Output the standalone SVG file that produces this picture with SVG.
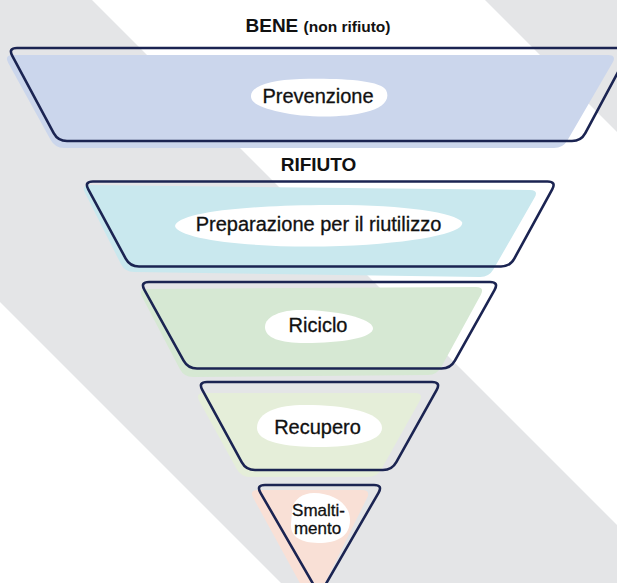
<svg xmlns="http://www.w3.org/2000/svg" width="617" height="583" viewBox="0 0 617 583">
<style>
.bg{fill:#e4e5e7}
.ol{fill:none;stroke:#1b2452;stroke-width:2.6;stroke-linejoin:round}
.blob{fill:#ffffff}
.lbl{font-family:"Liberation Sans",Arial,sans-serif;font-size:20px;fill:#111111;stroke:#111111;stroke-width:0.3;text-anchor:middle}
.sm{font-size:17px}
.hd{font-family:"Liberation Sans",Arial,sans-serif;font-weight:bold;font-size:19px;fill:#111111;text-anchor:middle}
</style>
<rect width="617" height="583" fill="#ffffff"/>
<polygon class="bg" points="0,0 92,0 617,525 617,583 281,583 0,302"/>
<polygon class="bg" points="485,0 617,0 617,132"/>
<text class="hd" x="318" y="32">BENE <tspan font-size="15.5px">(non rifiuto)</tspan></text>
<text class="hd" x="318.5" y="171">RIFIUTO</text>
<g id="prevenzione">
<path fill="#cbd6ec" d="M 13,55 L 608,55 Q 617,55 612.5,62.8 L 567.5,140.2 Q 563,148 554,148 L 64,148 Q 55,148 50.7,140.1 L 8.3,62.9 Q 4,55 13,55 Z"/>
<path class="ol" d="M 17,48 L 622,48 Q 631,48 626.7,55.9 L 585.3,133.1 Q 581,141 572,141 L 67,141 Q 58,141 53.7,133.1 L 12.3,55.9 Q 8,48 17,48 Z"/>
<path class="blob" d="M 251,97 C 250,86 270,80 300,79 C 340,78 380,80 386,90 C 391,100 382,108 366,112 C 345,118 305,118 280,112 C 262,108 252,104 251,97 Z"/>
<text class="lbl" x="318" y="102.5">Prevenzione</text>
</g>
<g id="preparazione">
<path fill="#c9e8ee" d="M 90,185.1 L 530,189.9 Q 539,190 534.5,197.8 L 493.5,269.2 Q 489,277 480,276.9 L 134,272.1 Q 125,272 120.9,264 L 85.1,193 Q 81,185 90,185.1 Z"/>
<path class="ol" d="M 93,181.5 L 547.5,181.5 Q 556.5,181.5 552.2,189.4 L 514.3,258.6 Q 510,266.5 501,266.5 L 139,266.5 Q 130,266.5 125.7,258.6 L 88.3,189.4 Q 84,181.5 93,181.5 Z"/>
<path class="blob" d="M 175,226 C 178,214 230,206 320,205 C 400,204 455,212 462,222 C 466,232 420,243 340,246 C 260,249 178,240 175,226 Z"/>
<text class="lbl" x="318.5" y="230.5">Preparazione per il riutilizzo</text>
</g>
<g id="riciclo">
<path fill="#d6e8d3" d="M 147,289 L 476,287 Q 485,287 480.7,294.9 L 441.3,367.1 Q 437,375 428,375 L 193,377 Q 184,377 179.8,369 L 142.2,297 Q 138,289 147,289 Z"/>
<path class="ol" d="M 149,282 L 490,282 Q 499,282 494.6,289.9 L 454.9,360.6 Q 450.5,368.5 441.5,368.5 L 197,368.5 Q 188,368.5 183.6,360.6 L 144.4,289.9 Q 140,282 149,282 Z"/>
<path class="blob" d="M 265,327 C 265,316 282,310 300,310 C 335,310 372,318 373,328 C 374,338 340,343 305,343 C 280,343 265,338 265,327 Z"/>
<text class="lbl" x="318" y="332">Riciclo</text>
</g>
<g id="recupero">
<path fill="#e5eed9" d="M 204,393 L 415,393 Q 424,393 419.6,400.9 L 381.4,469.2 Q 377,477 368,477 L 250,477 Q 241,477 236.7,469.1 L 199.3,400.9 Q 195,393 204,393 Z"/>
<path class="ol" d="M 207,382 L 432,382 Q 441,382 436.7,389.9 L 396.3,462.1 Q 392,470 383,470 L 255,470 Q 246,470 241.7,462.1 L 202.3,389.9 Q 198,382 207,382 Z"/>
<path class="blob" d="M 257,428 C 257,412 278,405 305,405 C 345,405 382,412 382,428 C 382,442 350,447 320,447 C 285,447 257,442 257,428 Z"/>
<text class="lbl" x="317.5" y="434">Recupero</text>
</g>
<g id="smaltimento">
<path fill="#f9e0d6" d="M 258,490 L 362,490 Q 371,490 367,498.1 L 313,607 L 253.3,497.9 Q 249,490 258,490 Z"/>
<path class="ol" d="M 265,485 L 374,485 Q 383,485 378.5,492.8 L 319.5,595 L 260.5,492.8 Q 256,485 265,485 Z"/>
<path class="blob" d="M 292,512 C 292,500 302,493 314,493 C 332,493 350,503 350,520 C 350,536 338,543 318,543 C 300,543 290,536 291,524 Z"/>
<text class="lbl sm" x="318.5" y="515.5">Smalti-</text>
<text class="lbl sm" x="317.5" y="534">mento</text>
</g>
<g id="connectors"></g>
</svg>
